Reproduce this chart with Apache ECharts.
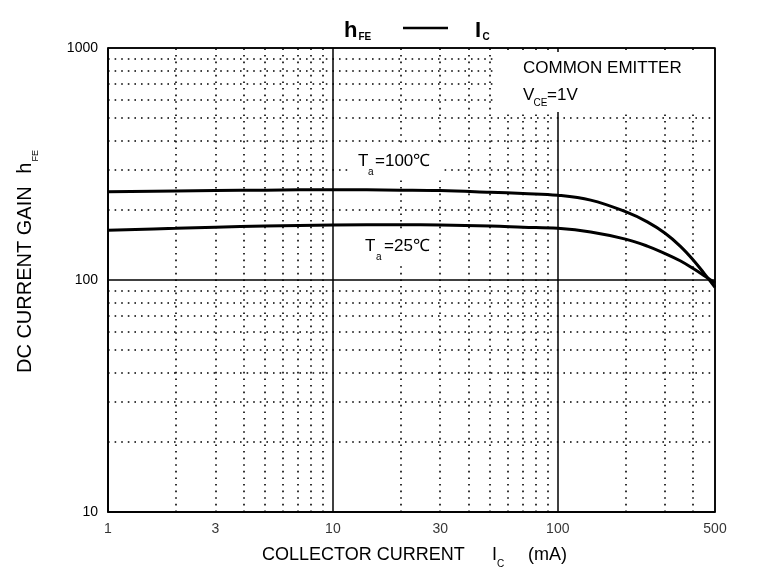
<!DOCTYPE html>
<html><head><meta charset="utf-8">
<script src="https://cdn.jsdelivr.net/npm/echarts@6/dist/echarts.min.js"></script>
<style>html,body{margin:0;padding:0;background:#fff}#c{width:772px;height:578px}</style>
</head><body><div id="c"></div>
<script>
// ---- data ----
const currentMA = [1, 2, 3, 5, 10, 20, 30, 50, 70, 100, 140, 200, 250, 300, 350, 400, 450, 500];
const hfe100C   = [240, 242, 243, 244, 245, 244, 243, 239, 236, 232, 221, 197, 178, 159, 140, 122, 106, 93];
const hfe25C    = [164, 167, 169, 171, 172.5, 173, 172.5, 171, 169, 167, 161, 150, 140, 130, 121, 112, 104, 97];
const xMinorTicks = [2, 3, 4, 5, 6, 7, 8, 9, 20, 30, 40, 50, 60, 70, 80, 90, 200, 300, 400];
const yMinorTicks = [20, 30, 40, 50, 60, 70, 80, 90, 200, 300, 400, 500, 600, 700, 800, 900];
const xTickLabels = [1, 3, 10, 30, 100, 500];
const yRange = [10, 1000];
const xRange = [1, 500];

const FONT = "'Liberation Sans', Arial, sans-serif";
const chart = echarts.init(document.getElementById('c'), null, {renderer: 'canvas'});

function zip(xs, ys) { return xs.map((x, i) => [x, ys[i]]); }
function txt(text, x, y, size, opts) {
  opts = opts || {};
  return {
    type: 'text', x: x, y: y, z: 110, rotation: opts.rotation || 0, silent: true,
    style: {
      text: text, fill: '#000', fontSize: size, fontFamily: FONT,
      fontWeight: opts.bold ? 'bold' : 'normal',
      align: opts.align || 'left', verticalAlign: 'middle'
    }
  };
}
function box(x, y, w, h) {
  return { type: 'rect', z: 100, silent: true, shape: {x: x, y: y, width: w, height: h}, style: {fill: '#fff'} };
}

const option = {
  animation: false,
  backgroundColor: '#fff',
  grid: { left: 108, right: 57, top: 48, bottom: 66, show: true, borderColor: '#000', borderWidth: 1.5, backgroundColor: 'transparent' },
  xAxis: {
    type: 'log', logBase: 10, min: xRange[0], max: xRange[1],
    axisLine: { show: true, lineStyle: { color: '#000', width: 1.5 } },
    axisTick: { show: false }, axisLabel: { show: false },
    splitLine: { show: true, lineStyle: { color: '#000', width: 1.5 } }
  },
  yAxis: {
    type: 'log', logBase: 10, min: yRange[0], max: yRange[1],
    axisLine: { show: true, lineStyle: { color: '#000', width: 1.5 } },
    axisTick: { show: false },
    axisLabel: { show: true, color: '#000', fontSize: 14, fontFamily: FONT, margin: 10,
                 formatter: v => String(Math.round(v)) },
    splitLine: { show: true, lineStyle: { color: '#000', width: 1.5 } }
  },
  series: [
    {
      name: 'ticks', type: 'scatter', clip: false, silent: true, z: 1,
      symbol: 'circle', symbolSize: 0.1, itemStyle: { color: 'rgba(0,0,0,0)' },
      data: xTickLabels.map(v => [v, yRange[0]]),
      label: { show: true, position: 'bottom', distance: 10, color: '#000', fontSize: 14, fontFamily: FONT,
               formatter: p => String(p.value[0]) },
      markLine: {
        silent: true, symbol: ['none', 'none'], label: { show: false },
        lineStyle: { color: '#000', width: 1.6, type: [1.6, 5] },
        data: xMinorTicks.map(v => ({ xAxis: v })).concat(yMinorTicks.map(v => ({ yAxis: v })))
      }
    },
    {
      name: 'Ta=100℃', type: 'line', smooth: 0.4, symbol: 'none', z: 5,
      lineStyle: { color: '#000', width: 3 },
      data: zip(currentMA, hfe100C)
    },
    {
      name: 'Ta=25℃', type: 'line', smooth: 0.4, symbol: 'none', z: 5,
      lineStyle: { color: '#000', width: 3 },
      data: zip(currentMA, hfe25C)
    }
  ],
  graphic: [
    // title  hFE —— IC
    txt('h', 344, 30.5, 22, {bold: true}),
    txt('FE', 358.5, 37, 10, {bold: true}),
    { type: 'line', z: 110, silent: true, shape: {x1: 403, y1: 28, x2: 448, y2: 28}, style: {stroke: '#000', lineWidth: 2.5} },
    txt('I', 475, 30.5, 22, {bold: true}),
    txt('C', 482.5, 37, 10, {bold: true}),
    // annotation box
    box(493, 52, 219, 60),
    txt('COMMON EMITTER', 523, 68.5, 17),
    txt('V', 523, 95, 17),
    txt('CE', 533.5, 103.5, 10),
    txt('=1V', 547, 95, 17),
    // curve labels
    box(350, 146, 93, 32),
    txt('T', 358, 161, 17),
    txt('a', 368, 172.5, 10),
    txt('=100℃', 375, 161, 17),
    box(355, 233, 83, 29),
    txt('T', 365, 246, 17),
    txt('a', 376, 257, 10),
    txt('=25℃', 384, 246, 17),
    // x axis name
    txt('COLLECTOR CURRENT', 262, 555, 18),
    txt('I', 492, 555, 18),
    txt('C', 497, 564.5, 10),
    txt('(mA)', 528, 555, 18),
    // y axis name (rotated)
    txt('DC CURRENT GAIN', 25.8, 279.7, 20, {rotation: Math.PI / 2, align: 'center'}),
    txt('h', 25.3, 168.3, 20, {rotation: Math.PI / 2, align: 'center'}),
    txt('FE', 35.5, 155.8, 9, {rotation: Math.PI / 2, align: 'center'})
  ]
};
chart.setOption(option);
</script>
</body></html>
